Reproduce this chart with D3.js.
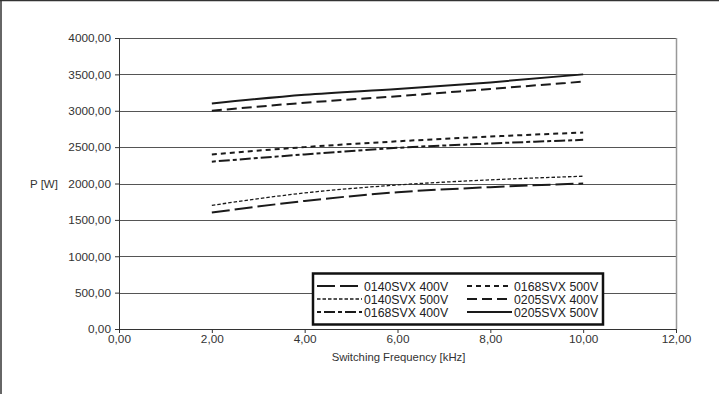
<!DOCTYPE html>
<html>
<head>
<meta charset="utf-8">
<script src="https://cdn.jsdelivr.net/npm/d3@7.9.0/dist/d3.min.js"></script>
<style>
  body { margin: 0; background: #fff; }
  svg { display: block; font-family: "Liberation Sans", Arial, sans-serif; }
  .tick text { fill: #333; font-size: 11.8px; }
</style>
</head>
<body>
<svg id="chart" width="719" height="394"></svg>
<script>
// switching frequency in kHz
const freqs = [2, 4, 6, 8, 10];

const p0140_400 = [1600, 1760, 1880, 1950, 2000];
const p0140_500 = [1700, 1870, 1980, 2050, 2100];
const p0168_400 = [2300, 2400, 2490, 2550, 2600];
const p0168_500 = [2400, 2500, 2580, 2645, 2700];
const p0205_400 = [3000, 3110, 3200, 3300, 3400];
const p0205_500 = [3100, 3220, 3300, 3390, 3500];

const seriesNames = [
  "0140SVX 400V", "0140SVX 500V", "0168SVX 400V",
  "0168SVX 500V", "0205SVX 400V", "0205SVX 500V"
];
const seriesValues = [p0140_400, p0140_500, p0168_400, p0168_500, p0205_400, p0205_500];

const xTicks = [0, 2, 4, 6, 8, 10, 12];
const yTicks = [0, 500, 1000, 1500, 2000, 2500, 3000, 3500, 4000];

// line styles per series
const styles = [
  { dash: "18,5", width: 2 },
  { dash: "3.5,2", width: 1.3 },
  { dash: "4,3,11,3", width: 2 },
  { dash: "5,4", width: 2 },
  { dash: "10,5", width: 2 },
  { dash: null, width: 2 }
];

const svg = d3.select("#chart");
const area = { left: 119, right: 676, top: 38, bottom: 329 };

const x = d3.scaleLinear().domain([0, 12]).range([area.left, area.right]);
const y = d3.scaleLinear().domain([0, 4000]).range([area.bottom, area.top]);

const loc = d3.formatLocale({ decimal: ",", thousands: "", grouping: [3], currency: ["", ""] });
const fmt = loc.format(".2f");

// outer frame (top + left edge of the page)
svg.append("line").attr("x1", 0).attr("x2", 719).attr("y1", 0.5).attr("y2", 0.5)
  .attr("stroke", "#333").attr("stroke-width", 1.5);
svg.append("line").attr("x1", 1).attr("x2", 1).attr("y1", 0).attr("y2", 394)
  .attr("stroke", "#333").attr("stroke-width", 1.5);

// gridlines
svg.append("g")
  .selectAll("line")
  .data(yTicks.filter((d) => d > 0))
  .join("line")
  .attr("x1", area.left)
  .attr("x2", area.right)
  .attr("y1", (d) => Math.round(y(d)) + 0.5)
  .attr("y2", (d) => Math.round(y(d)) + 0.5)
  .attr("stroke", "#555")
  .attr("stroke-width", 1);

// right border of plot area
svg.append("line")
  .attr("x1", area.right + 0.5).attr("x2", area.right + 0.5)
  .attr("y1", area.top).attr("y2", area.bottom)
  .attr("stroke", "#999").attr("stroke-width", 1.5);

// axes
const yAxis = svg.append("g")
  .attr("transform", `translate(${area.left},0)`)
  .call(d3.axisLeft(y).tickValues(yTicks).tickFormat(fmt).tickSize(4).tickPadding(4));
yAxis.selectAll("path, line").attr("stroke", "#333");

const xAxis = svg.append("g")
  .attr("transform", `translate(0,${area.bottom})`)
  .call(d3.axisBottom(x).tickValues(xTicks).tickFormat(fmt).tickSize(4).tickPadding(2));
xAxis.selectAll("path, line").attr("stroke", "#333");

svg.append("text")
  .attr("x", 30).attr("y", 188)
  .attr("fill", "#333").attr("font-size", 11.5)
  .text("P [W]");

svg.append("text")
  .attr("x", (area.left + area.right) / 2 + 1).attr("y", 361)
  .attr("text-anchor", "middle")
  .attr("fill", "#333").attr("font-size", 11.3)
  .text("Switching Frequency [kHz]");

// series lines
const line = d3.line()
  .x((d) => x(d[0]))
  .y((d) => y(d[1]))
  .curve(d3.curveMonotoneX);

svg.append("g")
  .selectAll("path")
  .data(seriesValues)
  .join("path")
  .attr("d", (vals) => line(freqs.map((f, i) => [f, vals[i]])))
  .attr("fill", "none")
  .attr("stroke", "#1a1a1a")
  .attr("stroke-width", (d, i) => styles[i].width)
  .attr("stroke-dasharray", (d, i) => styles[i].dash);

// legend
const legend = svg.append("g");
legend.append("rect")
  .attr("x", 313).attr("y", 273.5)
  .attr("width", 290).attr("height", 51)
  .attr("fill", "#fff")
  .attr("stroke", "#111")
  .attr("stroke-width", 2.5);

const colX = [317, 467];
const rowY = [286, 299, 312];

seriesNames.forEach((name, k) => {
  const col = Math.floor(k / 3);
  const row = k % 3;
  const lx = colX[col];
  const ly = rowY[row];
  legend.append("line")
    .attr("x1", lx).attr("x2", lx + 45)
    .attr("y1", ly).attr("y2", ly)
    .attr("stroke", "#1a1a1a")
    .attr("stroke-width", styles[k].width)
    .attr("stroke-dasharray", styles[k].dash);
  legend.append("text")
    .attr("x", lx + 47).attr("y", ly + 4.5)
    .attr("fill", "#222").attr("font-size", 12.3)
    .text(name);
});
</script>
</body>
</html>
